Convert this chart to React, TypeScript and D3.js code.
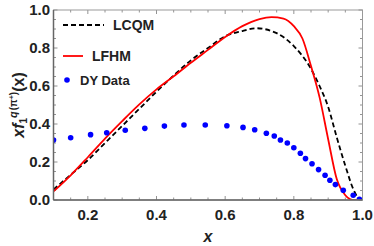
import React from "react";
import * as d3 from "d3";

const lcqmX = [0.1, 0.15, 0.2, 0.25, 0.3, 0.35, 0.4, 0.45, 0.5, 0.55, 0.6, 0.65, 0.69, 0.75, 0.8, 0.85, 0.875, 0.9, 0.925, 0.95, 0.975, 0.995, 1.0];
const lcqmY = [0.055, 0.133, 0.21, 0.3, 0.39, 0.48, 0.57, 0.655, 0.735, 0.8, 0.862, 0.889, 0.904, 0.878, 0.81, 0.69, 0.6, 0.49, 0.33, 0.18, 0.05, 0.0, 0.0];

const lfhmX = [0.1, 0.15, 0.2, 0.25, 0.3, 0.35, 0.4, 0.45, 0.5, 0.55, 0.6, 0.65, 0.7, 0.735, 0.77, 0.8, 0.825, 0.85, 0.875, 0.9, 0.925, 0.95, 0.965, 0.975, 1.0];
const lfhmY = [0.045, 0.13, 0.225, 0.323, 0.415, 0.503, 0.582, 0.651, 0.722, 0.79, 0.858, 0.915, 0.952, 0.962, 0.955, 0.915, 0.85, 0.705, 0.54, 0.32, 0.11, 0.025, 0.003, 0.0, 0.0];

const dyX = [0.1, 0.15, 0.208, 0.255, 0.309, 0.366, 0.423, 0.48, 0.542, 0.605, 0.652, 0.686, 0.72, 0.743, 0.761, 0.781, 0.8, 0.819, 0.834, 0.853, 0.872, 0.891, 0.905, 0.921, 0.944, 0.973, 0.991];
const dyY = [0.316, 0.328, 0.344, 0.354, 0.367, 0.377, 0.389, 0.395, 0.395, 0.391, 0.382, 0.37, 0.351, 0.337, 0.316, 0.3, 0.275, 0.246, 0.218, 0.191, 0.16, 0.13, 0.104, 0.081, 0.051, 0.025, 0.004];

const xMajor = [0.2, 0.4, 0.6, 0.8, 1.0];
const yMajor = [0.0, 0.2, 0.4, 0.6, 0.8, 1.0];
const legendLabels = ["LCQM", "LFHM", "DY Data"];

const W = 374, H = 246;
const L = 53.5, R = 362.5, T = 10, B = 200;

export default function App() {
  const x = d3.scaleLinear().domain([0.1, 1.0]).range([L, R]);
  const y = d3.scaleLinear().domain([0, 1]).range([B, T]);
  const line = d3.line<[number, number]>().x(d => x(d[0])).y(d => y(d[1])).curve(d3.curveMonotoneX);
  const lcqm = line(lcqmX.map((v, i) => [v, lcqmY[i]]) as [number, number][]) || "";
  const lfhm = line(lfhmX.map((v, i) => [v, lfhmY[i]]) as [number, number][]) || "";
  const xMinor = d3.range(0.1, 1.0001, 0.05).map(v => +v.toFixed(3));
  const yMinor = d3.range(0, 1.0001, 0.05).map(v => +v.toFixed(3));
  const isMajor = (v: number, arr: number[]) => arr.some(a => Math.abs(a - v) < 1e-6);
  const font = "'Liberation Sans', Arial, sans-serif";
  const tickCol = "#777";
  return (
    <svg width={W} height={H} style={{ position: "absolute", left: 0, top: 0 }} fontFamily={font}>
      <defs>
        <clipPath id="plot"><rect x={L} y={T - 1} width={R - L} height={B - T + 1} /></clipPath>
      </defs>
      <rect x={0} y={0} width={W} height={H} fill="white" />
      {xMinor.map((v, i) => {
        const len = isMajor(v, xMajor) ? 4 : 2.5;
        return (
          <g key={"xt" + i} stroke={tickCol} strokeWidth={0.8}>
            <line x1={x(v)} x2={x(v)} y1={B} y2={B - len} />
            <line x1={x(v)} x2={x(v)} y1={T} y2={T + len} />
          </g>
        );
      })}
      {yMinor.map((v, i) => {
        const len = isMajor(v, yMajor) ? 4 : 2.5;
        return (
          <g key={"yt" + i} stroke={tickCol} strokeWidth={0.8}>
            <line x1={L} x2={L + len} y1={y(v)} y2={y(v)} />
            <line x1={R} x2={R - len} y1={y(v)} y2={y(v)} />
          </g>
        );
      })}
      <g clipPath="url(#plot)">
        <path d={lcqm} fill="none" stroke="black" strokeWidth={1.8} strokeDasharray="5,3" />
        <path d={lfhm} fill="none" stroke="#ff0000" strokeWidth={1.8} />
        {dyX.map((v, i) => (
          <circle key={"d" + i} cx={x(v)} cy={y(dyY[i])} r={2.8} fill="#0000ff" />
        ))}
      </g>
      <rect x={L} y={T} width={R - L} height={B - T} fill="none" stroke="#999" strokeWidth={1} />
      <line x1={L} x2={L} y1={T} y2={B} stroke="#666" strokeWidth={1.5} />
      <line x1={L} x2={R} y1={B} y2={B} stroke="#666" strokeWidth={1.5} />
      {xMajor.map((v, i) => (
        <text key={"xl" + i} x={x(v)} y={220} textAnchor="middle" fontSize={15} fontWeight="bold" fill="#222">
          {v.toFixed(1)}
        </text>
      ))}
      {yMajor.map((v, i) => (
        <text key={"yl" + i} x={50} y={y(v) + 5.3} textAnchor="end" fontSize={15} fontWeight="bold" fill="#222">
          {v.toFixed(1)}
        </text>
      ))}
      <text x={208} y={242} textAnchor="middle" fontSize={16} fontWeight="bold" fontStyle="italic" fill="#222">x</text>
      <text transform="translate(24,105) rotate(-90)" textAnchor="middle" fontSize={16} fontWeight="bold" fill="#222">
        <tspan fontStyle="italic">xf</tspan>
        <tspan fontSize={10} dy={3}>1</tspan>
        <tspan fontSize={11} fontStyle="italic" dy={-10}>q</tspan>
        <tspan fontSize={10} dx={1}>(π</tspan>
        <tspan fontSize={7} dy={-3}>+</tspan>
        <tspan fontSize={10} dy={3}>)</tspan>
        <tspan dy={7}>(x)</tspan>
      </text>
      <line x1={63} x2={104} y1={25} y2={25} stroke="black" strokeWidth={1.8} strokeDasharray="5,3" />
      <text x={113} y={30} fontSize={14} fontWeight="bold" fill="#222">{legendLabels[0]}</text>
      <line x1={63} x2={83} y1={56} y2={56} stroke="#ff0000" strokeWidth={1.8} />
      <text x={92} y={61} fontSize={14} fontWeight="bold" fill="#222">{legendLabels[1]}</text>
      <circle cx={67} cy={80} r={2.8} fill="#0000ff" />
      <text x={80} y={85} fontSize={13} fontWeight="bold" fill="#222">{legendLabels[2]}</text>
    </svg>
  );
}
